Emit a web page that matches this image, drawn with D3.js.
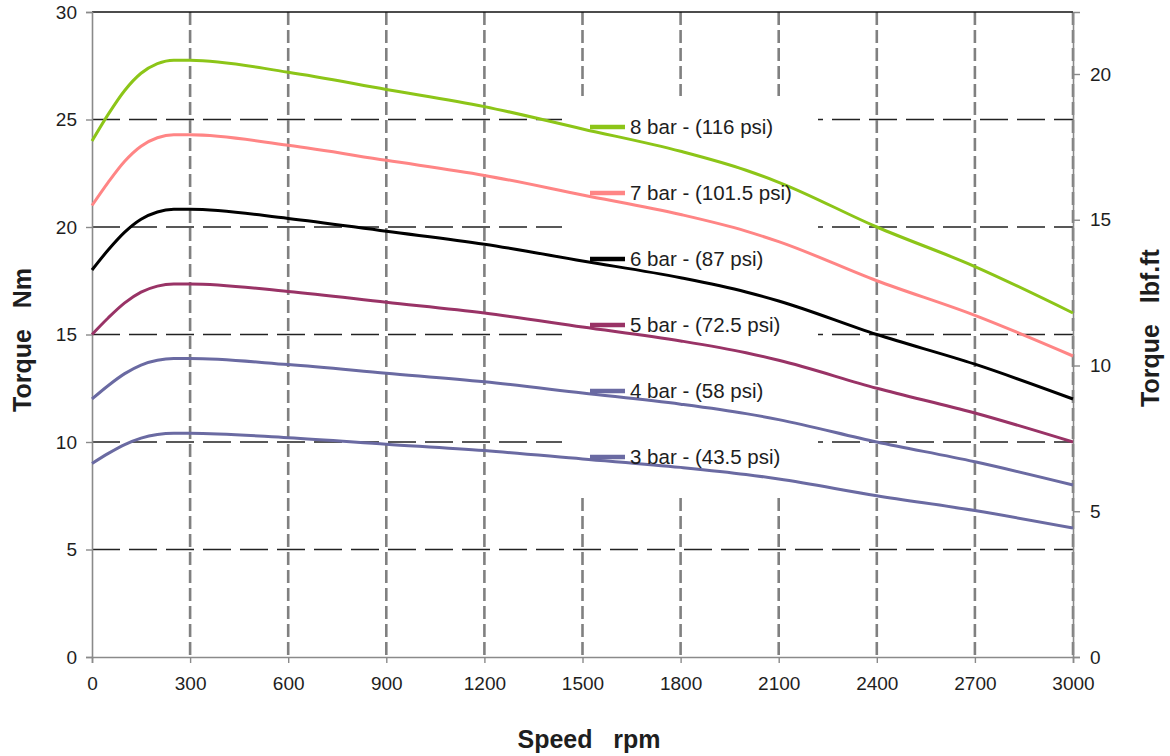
<!DOCTYPE html>
<html>
<head>
<meta charset="utf-8">
<script src="https://cdn.jsdelivr.net/npm/d3@7"></script>
<style>
  body { margin: 0; background: #fff; }
  text { font-family: "Liberation Sans", Arial, sans-serif; fill: #1e1e1e; }
</style>
</head>
<body>
<svg id="chart" width="1170" height="756"></svg>
<script>
// ---------- data ----------
const speeds = [0, 50, 100, 150, 200, 250, 300, 600, 900, 1200, 1500, 1800, 2000, 2100, 2400, 2700, 3000];
const bar8 = [24.00, 25.25, 26.35, 27.15, 27.60, 27.76, 27.76, 27.20, 26.40, 25.60, 24.56, 23.52, 22.64, 22.08, 20.00, 18.16, 16.00];
const bar7 = [21.00, 22.09, 23.06, 23.76, 24.15, 24.29, 24.29, 23.80, 23.10, 22.40, 21.49, 20.58, 19.81, 19.32, 17.50, 15.89, 14.00];
const bar6 = [18.00, 18.94, 19.76, 20.36, 20.70, 20.82, 20.82, 20.40, 19.80, 19.20, 18.42, 17.64, 16.98, 16.56, 15.00, 13.62, 12.00];
const bar5 = [15.00, 15.78, 16.47, 16.97, 17.25, 17.35, 17.35, 17.00, 16.50, 16.00, 15.35, 14.70, 14.15, 13.80, 12.50, 11.35, 10.00];
const bar4 = [12.00, 12.63, 13.18, 13.58, 13.80, 13.88, 13.88, 13.60, 13.20, 12.80, 12.28, 11.76, 11.32, 11.04, 10.00, 9.08, 8.00];
const bar3 = [9.00, 9.47, 9.88, 10.18, 10.35, 10.41, 10.41, 10.20, 9.90, 9.60, 9.21, 8.82, 8.49, 8.28, 7.50, 6.81, 6.00];

const seriesNames = ["8 bar - (116 psi)", "7 bar - (101.5 psi)", "6 bar - (87 psi)", "5 bar - (72.5 psi)", "4 bar - (58 psi)", "3 bar - (43.5 psi)"];
const seriesValues = [bar8, bar7, bar6, bar5, bar4, bar3];
const seriesColors = ["#8cc518", "#ff8585", "#000000", "#993366", "#6a6aa2", "#6a6aa2"];

const xTicks = [0, 300, 600, 900, 1200, 1500, 1800, 2100, 2400, 2700, 3000];
const yTicks = [0, 5, 10, 15, 20, 25, 30];
const yRightTicks = [0, 5, 10, 15, 20];
const nmToLbfft = 0.737562;

// ---------- layout ----------
const svg = d3.select("#chart");
const L = 92, R = 1073, T = 12, B = 657;
const x = d3.scaleLinear().domain([0, 3000]).range([L, R]);
const y = d3.scaleLinear().domain([0, 30]).range([B, T]);
const y2 = d3.scaleLinear().domain([0, 30 * nmToLbfft]).range([B, T]);

// horizontal grid (black dashed)
svg.append("g").selectAll("line").data(yTicks.filter(v => v > 0 && v < 30)).join("line")
  .attr("x1", L).attr("x2", R).attr("y1", d => y(d)).attr("y2", d => y(d))
  .attr("stroke", "#222").attr("stroke-width", 1.6).attr("stroke-dasharray", "28,9");

// vertical grid (gray dashed)
svg.append("g").selectAll("line").data(xTicks.filter(v => v > 0)).join("line")
  .attr("x1", d => x(d)).attr("x2", d => x(d)).attr("y1", T).attr("y2", B)
  .attr("stroke", "#808080").attr("stroke-width", 2.6).attr("stroke-dasharray", "13,5");

// top border
svg.append("line").attr("x1", L).attr("x2", R).attr("y1", T).attr("y2", T)
  .attr("stroke", "#111").attr("stroke-width", 1.5);

// legend background
svg.append("rect").attr("x", 562).attr("y", 96).attr("width", 256).attr("height", 398).attr("fill", "#fff");

// axes
const axL = svg.append("g").attr("transform", `translate(${L},0)`)
  .call(d3.axisLeft(y).tickValues(yTicks).tickSize(6).tickPadding(9));
const axR = svg.append("g").attr("transform", `translate(${R},0)`)
  .call(d3.axisRight(y2).tickValues(yRightTicks).tickSize(7).tickPadding(10));
const axB = svg.append("g").attr("transform", `translate(0,${B})`)
  .call(d3.axisBottom(x).tickValues(xTicks).tickFormat(d3.format("d")).tickSize(6).tickPadding(8));
[axL, axR, axB].forEach(g => {
  g.selectAll(".domain").attr("stroke", "#8a8a8a").attr("stroke-width", 1.6);
  g.selectAll(".tick line").attr("stroke", "#8a8a8a").attr("stroke-width", 1.4);
  g.selectAll("text").style("font-size", "19px").attr("fill", "#1e1e1e");
});
axB.selectAll("text").attr("dy", null).attr("y", 33);

// curves
const line = d3.line().x((d, i) => x(speeds[i])).y(d => y(d)).curve(d3.curveMonotoneX);
svg.append("g").selectAll("path").data(seriesValues).join("path")
  .attr("d", d => line(d)).attr("fill", "none")
  .attr("stroke", (d, i) => seriesColors[i]).attr("stroke-width", 3)
  .attr("stroke-linejoin", "round");

// legend entries
const lg = svg.append("g").selectAll("g").data(seriesNames).join("g")
  .attr("transform", (d, i) => `translate(590,${127 + i * 66})`);
lg.append("line").attr("x1", 0).attr("x2", 35).attr("y1", 0).attr("y2", 0)
  .attr("stroke", (d, i) => seriesColors[i]).attr("stroke-width", 4.5);
lg.append("text").attr("x", 40).attr("dy", "0.35em").style("font-size", "20.5px").text(d => d);

// axis titles
svg.append("text").attr("transform", "translate(31,340) rotate(-90)")
  .attr("text-anchor", "middle").style("font-size", "25px").style("font-weight", "bold")
  .style("white-space", "pre").text("Torque   Nm");
svg.append("text").attr("transform", "translate(1159,328) rotate(-90)")
  .attr("text-anchor", "middle").style("font-size", "25px").style("font-weight", "bold")
  .style("white-space", "pre").text("Torque   lbf.ft");
svg.append("text").attr("x", 589).attr("y", 748)
  .attr("text-anchor", "middle").style("font-size", "25px").style("font-weight", "bold")
  .style("white-space", "pre").text("Speed   rpm");
</script>
</body>
</html>
